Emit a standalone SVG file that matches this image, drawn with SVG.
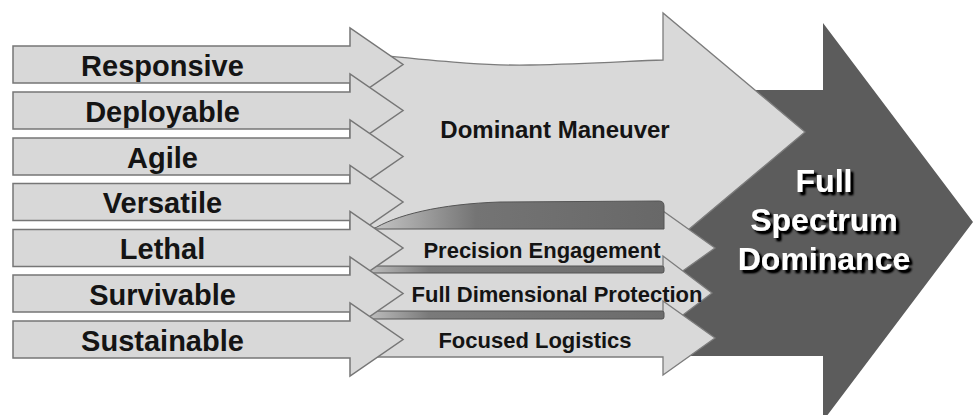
<svg xmlns="http://www.w3.org/2000/svg" width="979" height="415" viewBox="0 0 979 415">
<defs>
<style>
.lbl{font-family:"Liberation Sans",Arial,sans-serif;font-weight:bold;fill:#141414;text-anchor:middle}
.big{font-size:29px}
.mid{font-size:22px}
.la{fill:#d8d8d8;stroke:#767676;stroke-width:1.5;stroke-linejoin:miter}
.ma{fill:#d9d9d9;stroke:#7c7c7c;stroke-width:1.3}
.fsd{font-family:"Liberation Sans",Arial,sans-serif;font-weight:bold;font-size:32px;text-anchor:middle;fill:#ffffff}
</style>
<filter id="shadow" x="-10%" y="-20%" width="130%" height="150%">
<feGaussianBlur in="SourceAlpha" stdDeviation="0.8" result="b"/>
<feOffset in="b" dx="2.5" dy="2.5" result="o"/>
<feComponentTransfer in="o" result="s"><feFuncA type="linear" slope="1.4"/></feComponentTransfer>
<feMerge><feMergeNode in="s"/><feMergeNode in="SourceGraphic"/></feMerge>
</filter>
<linearGradient id="tubeG" x1="375" y1="0" x2="664" y2="0" gradientUnits="userSpaceOnUse">
<stop offset="0" stop-color="#c4c4c4"/>
<stop offset="0.35" stop-color="#747474"/>
<stop offset="1" stop-color="#686868"/>
</linearGradient>
<linearGradient id="bandG" x1="370" y1="0" x2="664" y2="0" gradientUnits="userSpaceOnUse">
<stop offset="0" stop-color="#bdbdbd"/>
<stop offset="0.2" stop-color="#7a7a7a"/>
<stop offset="1" stop-color="#6c6c6c"/>
</linearGradient>
</defs>
<rect width="979" height="415" fill="#ffffff"/>

<g id="full-spectrum-dominance">
<path d="M 680,90 L 823,90 L 823,23 L 973,222 L 823,421 L 823,356 L 680,356 Z" fill="#5c5c5c"/>
</g>

<g id="dominant-maneuver">
<path class="ma" d="M 366,54 C 430,60 480,66 530,65 C 590,64 630,61 663,60 L 663,13 L 805,132 L 663,251 L 663,240 L 366,240 Z"/>
<text class="lbl" x="555" y="138" font-size="24">Dominant Maneuver</text>
</g>

<g id="precision-engagement">
<polygon class="ma" points="370,228 663,228 663,211 715,248 663,285 663,267 370,267"/>
</g>
<g id="full-dimensional-protection">
<polygon class="ma" points="370,272 663,272 663,256 712,293 663,330 663,312 370,312"/>
</g>
<g id="focused-logistics">
<polygon class="ma" points="370,318 663,318 663,301 715,338 663,375 663,357 370,357"/>
</g>

<g id="bands">
<path d="M 372,230 C 395,215 440,204 500,202 L 659,201 Q 664,201 664,206 L 664,229 L 372,229 Z" fill="url(#tubeG)" stroke="#555" stroke-width="1"/>
<rect x="370" y="266" width="294" height="7" rx="2" fill="url(#bandG)" stroke="#555" stroke-width="1"/>
<rect x="370" y="311" width="294" height="8" rx="2" fill="url(#bandG)" stroke="#555" stroke-width="1"/>
</g>

<g id="middle-labels">
<text class="lbl mid" x="542" y="258">Precision Engagement</text>
<text class="lbl mid" x="557" y="302">Full Dimensional Protection</text>
<text class="lbl mid" x="535" y="348">Focused Logistics</text>
</g>

<g id="responsive">
<polygon class="la" points="13,46 350,46 350,28 403,64.5 350,101 350,83 13,83"/>
<text class="lbl big" x="162.5" y="75.5">Responsive</text>
</g>
<g id="deployable">
<polygon class="la" points="13,92 350,92 350,74 403,110.5 350,147 350,129 13,129"/>
<text class="lbl big" x="162.5" y="121.5">Deployable</text>
</g>
<g id="agile">
<polygon class="la" points="13,138 350,138 350,120 403,156.5 350,193 350,175 13,175"/>
<text class="lbl big" x="162.5" y="167.5">Agile</text>
</g>
<g id="versatile">
<polygon class="la" points="13,183.5 350,183.5 350,165.5 403,202 350,238.5 350,220.5 13,220.5"/>
<text class="lbl big" x="162.5" y="213">Versatile</text>
</g>
<g id="lethal">
<polygon class="la" points="13,229.5 350,229.5 350,211.5 403,248 350,284.5 350,266.5 13,266.5"/>
<text class="lbl big" x="162.5" y="259">Lethal</text>
</g>
<g id="survivable">
<polygon class="la" points="13,275 350,275 350,257 403,293.5 350,330 350,312 13,312"/>
<text class="lbl big" x="162.5" y="304.5">Survivable</text>
</g>
<g id="sustainable">
<polygon class="la" points="13,321 350,321 350,303 403,339.5 350,376 350,358 13,358"/>
<text class="lbl big" x="162.5" y="350.5">Sustainable</text>
</g>

<g id="fsd-label" class="fsd" filter="url(#shadow)">
<text x="824" y="192">Full</text>
<text x="824" y="231">Spectrum</text>
<text x="824" y="270">Dominance</text>
</g>
<g id="connectors"/>
</svg>
